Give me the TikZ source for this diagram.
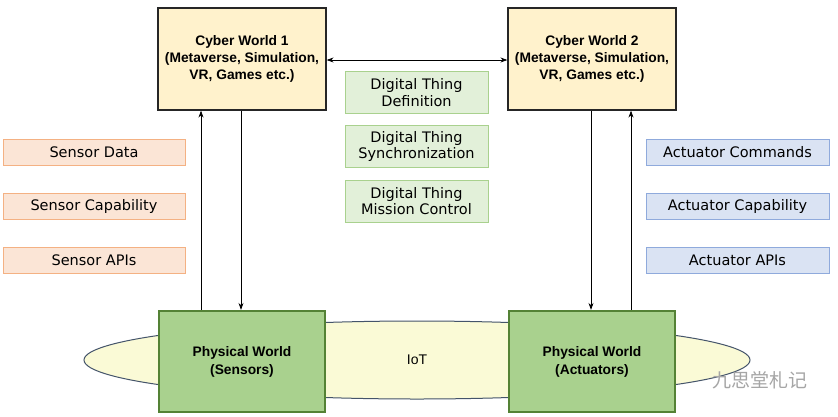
\documentclass[tikz,border=0pt]{standalone}
\usepackage{fontspec}
\setmainfont{Liberation Sans}
\newfontfamily\vfont{DejaVu Sans}
\newfontfamily\cjk{Noto Sans CJK SC}
\usetikzlibrary{arrows.meta,shapes.geometric}
\definecolor{cyberfill}{HTML}{FFF2CC}
\definecolor{physfill}{HTML}{A9D18E}
\definecolor{physdraw}{HTML}{548235}
\definecolor{dtfill}{HTML}{E2F0D9}
\definecolor{dtdraw}{HTML}{A9D18E}
\definecolor{senfill}{HTML}{FBE5D6}
\definecolor{sendraw}{HTML}{F4B183}
\definecolor{actfill}{HTML}{DAE3F3}
\definecolor{actdraw}{HTML}{8FAADC}
\definecolor{iotfill}{HTML}{FAFAD6}
\definecolor{iotdraw}{HTML}{44546A}
\tikzset{
  x=1pt, y=-1pt,
  bigbox/.style={draw=black!85, line width=1.2pt, fill=cyberfill, minimum width=168pt, minimum height=102pt, align=center, font=\fontsize{13.8}{17}\selectfont\bfseries, inner sep=0pt},
  physbox/.style={draw=physdraw, line width=2.2pt, fill=physfill, minimum width=166pt, minimum height=101pt, align=center, font=\fontsize{13.8}{18}\selectfont\bfseries, inner sep=0pt},
  dtbox/.style={draw=dtdraw, line width=0.8pt, fill=dtfill, minimum width=143pt, minimum height=42pt, align=center, font=\vfont\fontsize{14.5}{16.5}\selectfont, inner sep=0pt},
  senbox/.style={draw=sendraw, line width=0.8pt, fill=senfill, minimum width=182pt, minimum height=26pt, font=\vfont\fontsize{14.5}{16}\selectfont, inner sep=0pt},
  actbox/.style={draw=actdraw, line width=0.8pt, fill=actfill, minimum width=183pt, minimum height=26pt, font=\vfont\fontsize{14.5}{16}\selectfont, inner sep=0pt},
  conn/.style={line width=0.8pt, -{Stealth[length=7pt,width=5pt]}},
}
\begin{document}
\begin{tikzpicture}
\useasboundingbox[fill=white] (0,0) rectangle (838,416);
% IoT ellipse
\node[draw=iotdraw, line width=1pt, fill=iotfill, ellipse, minimum width=666pt, minimum height=78pt, inner sep=0pt] (iot) at (417,360) {};
\node[font=\fontsize{14}{16}\selectfont] (iottext) at (417,360) {IoT};
% Cyber worlds
\node[bigbox] (cw1) at (242,59) {Cyber World 1\\(Metaverse, Simulation,\\VR, Games etc.)};
\node[bigbox] (cw2) at (592,59) {Cyber World 2\\(Metaverse, Simulation,\\VR, Games etc.)};
% Physical worlds
\node[physbox] (pw1) at (242,361.5) {Physical World\\(Sensors)};
\node[physbox] (pw2) at (592,361.5) {Physical World\\(Actuators)};
% Digital thing boxes
\node[dtbox] (dt1) at (416.5,92.5) {Digital Thing\\Definition};
\node[dtbox] (dt2) at (416.5,146.5) {Digital Thing\\Synchronization};
\node[dtbox] (dt3) at (416.5,201) {Digital Thing\\Mission Control};
% Sensor boxes
\node[senbox] (s1) at (94,152) {Sensor Data};
\node[senbox] (s2) at (94,206) {Sensor Capability};
\node[senbox] (s3) at (94,260) {Sensor APIs};
% Actuator boxes
\node[actbox] (a1) at (737.5,152) {Actuator Commands};
\node[actbox] (a2) at (737.5,206) {Actuator Capability};
\node[actbox] (a3) at (737.5,260) {Actuator APIs};
% connectors
\draw[line width=0.8pt, {Stealth[length=7pt,width=5pt]}-{Stealth[length=7pt,width=5pt]}] (cw1.east |- 0,60) -- (cw2.west |- 0,60);
\draw[conn] (pw1.north -| 201,0) -- (cw1.south -| 201,0);
\draw[conn] (cw1.south -| 241,0) -- (pw1.north -| 241,0);
\draw[conn] (cw2.south -| 591,0) -- (pw2.north -| 591,0);
\draw[conn] (pw2.north -| 631,0) -- (cw2.south -| 631,0);
% watermark
\node[text=black!35, font=\cjk\fontsize{19}{21}\selectfont, anchor=west, inner sep=0pt] (wm) at (712,380) {九思堂札记};
\end{tikzpicture}
\end{document}
